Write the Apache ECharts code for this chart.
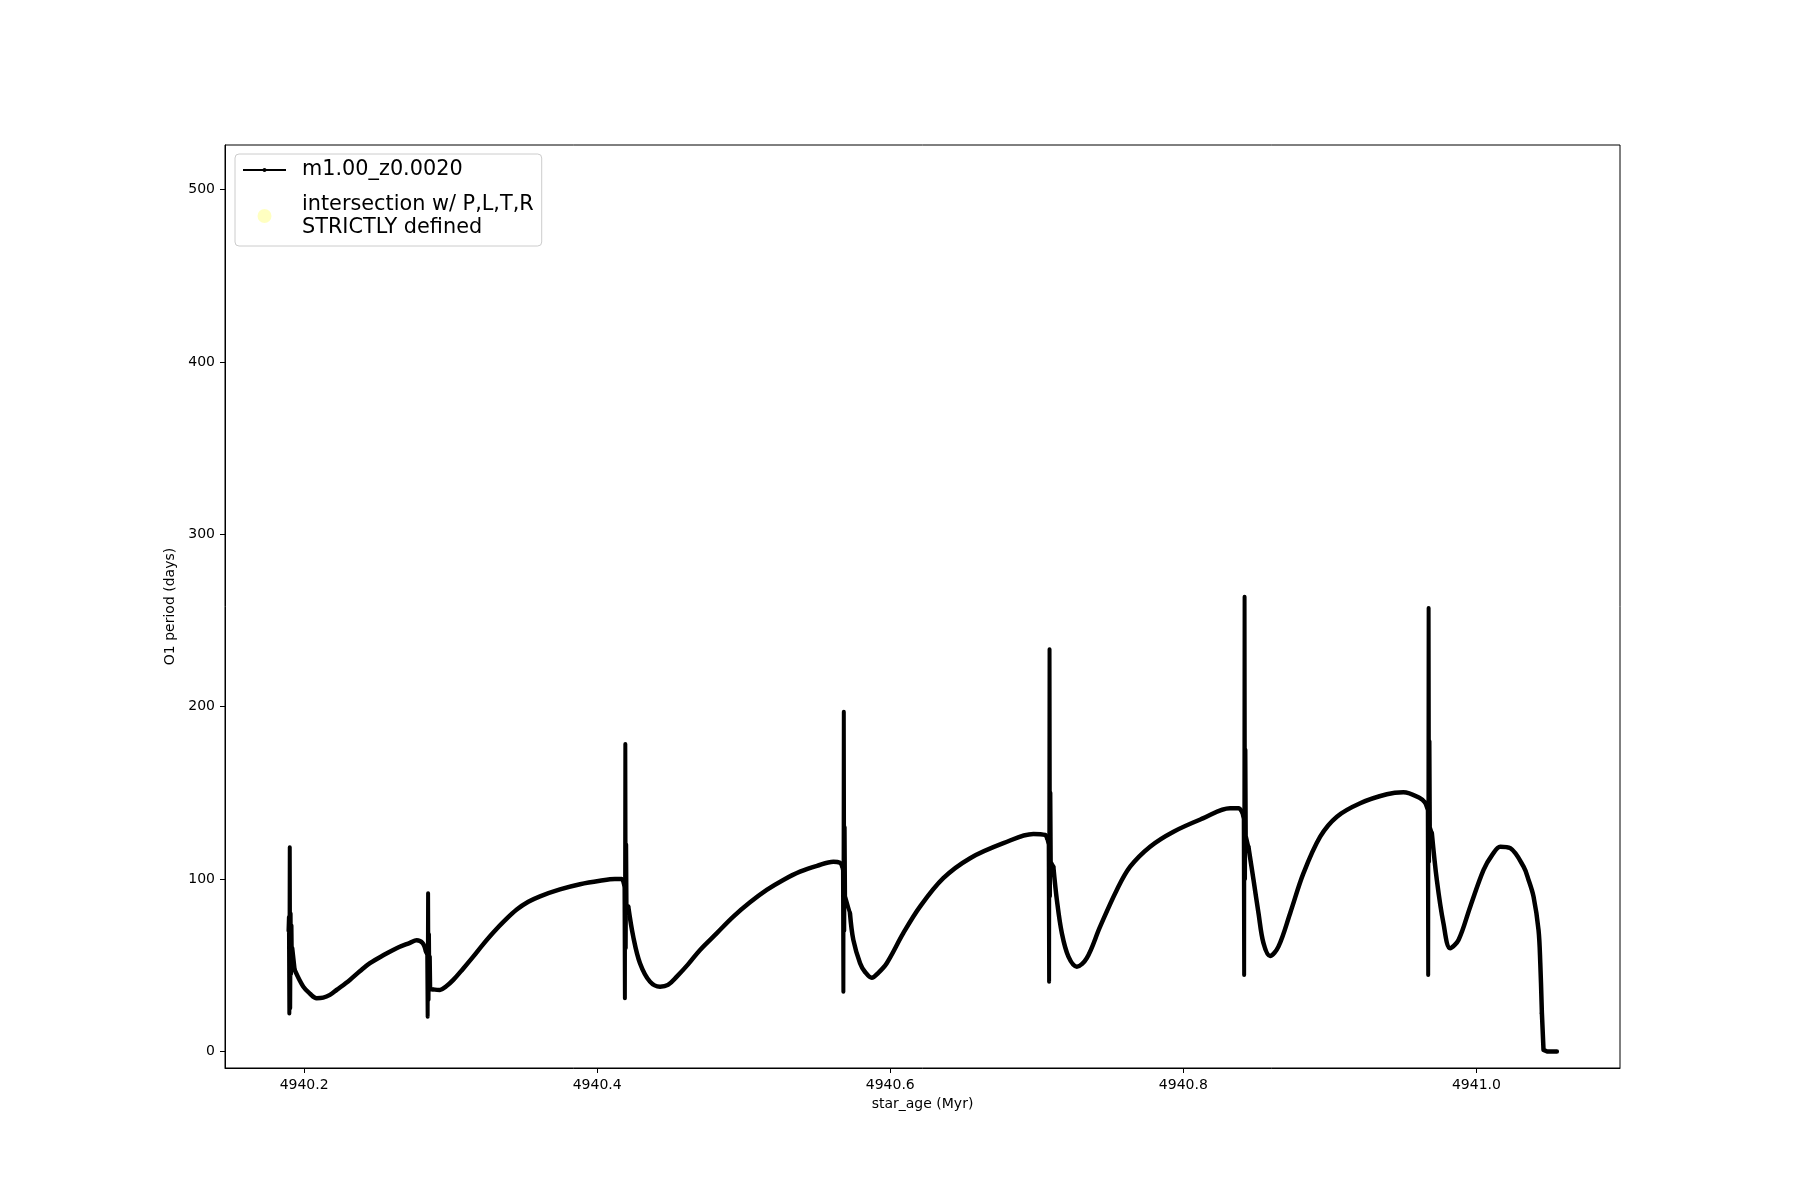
<!DOCTYPE html>
<html>
<head>
<meta charset="utf-8">
<script src="https://cdn.jsdelivr.net/npm/echarts@6/dist/echarts.min.js"></script>
<style>
html,body{margin:0;padding:0;background:#fff;}
#chart{width:1800px;height:1200px;}
</style>
</head>
<body>
<div id="chart"></div>
<script>
// ---- data ----
const seriesName = 'm1.00_z0.0020';
const intersectionName = 'intersection w/ P,L,T,R\nSTRICTLY defined';

const xTicks = [4940.2, 4940.4, 4940.6, 4940.8, 4941.0];
const yTicks = [0, 100, 200, 300, 400, 500];

// pulse spikes (dense vertical oscillations) and the arcs that follow them
const spikeAge1 = [4940.1893, 4940.1896, 4940.1899, 4940.1902, 4940.1905, 4940.1908, 4940.1911, 4940.1914, 4940.1917, 4940.1920];
const spikePeriod1 = [70, 78, 22, 118.5, 25, 80, 45, 73, 50, 60];
const arcAge1 = [4940.1937, 4940.1994, 4940.2040, 4940.2085, 4940.2130, 4940.2176, 4940.2222, 4940.2312, 4940.2380, 4940.2449, 4940.2540, 4940.2631, 4940.2722, 4940.2768, 4940.2809, 4940.2831];
const arcPeriod1 = [47, 37.6, 33.5, 30.9, 31.2, 32.8, 35.7, 41.5, 46.5, 51.2, 55.8, 59.9, 63, 64.5, 62.8, 58];

const spikeAge2 = [4940.2840, 4940.2843, 4940.2846, 4940.2849, 4940.2852, 4940.2855, 4940.2858, 4940.2861];
const spikePeriod2 = [56, 20.2, 91.8, 30, 68, 38, 55, 36];
const arcAge2 = [4940.2879, 4940.2927, 4940.2970, 4940.3018, 4940.3085, 4940.3154, 4940.3220, 4940.3291, 4940.3370, 4940.3451, 4940.3530, 4940.3610, 4940.3746, 4940.3883, 4940.4019, 4940.4121, 4940.4167, 4940.4183];
const arcPeriod2 = [36, 35.7, 37.8, 41.5, 48, 55.0, 62, 69, 76, 82.3, 86.8, 90, 94, 97, 99, 100, 100, 97];

const spikeAge3 = [4940.4186, 4940.4189, 4940.4192, 4940.4195, 4940.4198, 4940.4201];
const spikePeriod3 = [95, 30.9, 178.4, 60, 120, 80];
const arcAge3 = [4940.4212, 4940.4246, 4940.4292, 4940.4360, 4940.4429, 4940.4483, 4940.4543, 4940.4620, 4940.4702, 4940.4815, 4940.4929, 4940.5043, 4940.5157, 4940.5270, 4940.5384, 4940.5500, 4940.5612, 4940.5657, 4940.5671];
const arcPeriod3 = [84, 66.6, 51.2, 40.5, 37.6, 38.6, 43.4, 50.5, 58.9, 68.5, 78.2, 86.5, 93.7, 99.5, 104.3, 107.7, 110.1, 109.5, 107.6];

const spikeAge4 = [4940.5677, 4940.5680, 4940.5683, 4940.5686, 4940.5689, 4940.5692];
const spikePeriod4 = [105, 34.7, 197.1, 70, 130, 90];
const arcAge4 = [4940.5725, 4940.5748, 4940.5794, 4940.5828, 4940.5874, 4940.5917, 4940.5976, 4940.6089, 4940.6203, 4940.6362, 4940.6545, 4940.6772, 4940.6977, 4940.7057, 4940.7070];
const arcPeriod4 = [80.2, 64.7, 51.2, 46.1, 42.8, 45.5, 51.2, 68.6, 84.0, 100.5, 112.1, 120.8, 126.2, 125.6, 123.8];

const spikeAge5 = [4940.7081, 4940.7084, 4940.7087, 4940.7090, 4940.7093, 4940.7096];
const spikePeriod5 = [120, 40.5, 233.3, 90, 150, 110];
const arcAge5 = [4940.7113, 4940.7137, 4940.7171, 4940.7216, 4940.7273, 4940.7341, 4940.7432, 4940.7546, 4940.7637, 4940.7773, 4940.7933, 4940.8137, 4940.8319, 4940.8376, 4940.8401];
const arcPeriod5 = [107.2, 87.9, 68.6, 55.0, 49.2, 54.1, 72.4, 93.7, 107.2, 118.8, 127.5, 135.3, 141.1, 141.1, 138.9];

const spikeAge6 = [4940.8412, 4940.8415, 4940.8418, 4940.8421, 4940.8424, 4940.8427];
const spikePeriod6 = [135, 44.4, 263.8, 100, 175, 125];
const arcAge6 = [4940.8444, 4940.8479, 4940.8513, 4940.8547, 4940.8592, 4940.8649, 4940.8729, 4940.8820, 4940.8934, 4940.9048, 4940.9207, 4940.9389, 4940.9502, 4940.9616, 4940.9650];
const arcPeriod6 = [118.8, 99.5, 80.2, 62.8, 55.4, 60.8, 80.2, 103.4, 124.6, 136.2, 144.0, 149.2, 150.3, 146.9, 144.3];

const spikeAge7 = [4940.9668, 4940.9671, 4940.9674, 4940.9677, 4940.9680, 4940.9683];
const spikePeriod7 = [140, 44.4, 257.3, 110, 180, 130];
const arcAge7 = [4940.9696, 4940.9730, 4940.9775, 4940.9821, 4940.9878, 4940.9958, 4941.0049, 4941.0108, 4941.0163, 4941.0231, 4941.0322, 4941.0356, 4941.0390, 4941.0424, 4941.0436, 4941.0447];
const arcPeriod7 = [126.6, 99.5, 74.4, 59.9, 64.7, 84.0, 105.3, 114, 118.8, 117.9, 107.2, 99.5, 89.8, 70.5, 51.2, 22.2];

const tailAge = [4941.0458, 4941.0483, 4941.0549];
const tailPeriod = [0.9, 0, 0];

const intersectionPoints = [];

// ---- build ----
const spikeAges = [spikeAge1, spikeAge2, spikeAge3, spikeAge4, spikeAge5, spikeAge6, spikeAge7];
const spikePeriods = [spikePeriod1, spikePeriod2, spikePeriod3, spikePeriod4, spikePeriod5, spikePeriod6, spikePeriod7];
const arcAges = [arcAge1, arcAge2, arcAge3, arcAge4, arcAge5, arcAge6, arcAge7];
const arcPeriods = [arcPeriod1, arcPeriod2, arcPeriod3, arcPeriod4, arcPeriod5, arcPeriod6, arcPeriod7];
const zip = (a, p) => a.map((v, i) => [v, p[i]]);

const FONT = 'DejaVu Sans';
const lineIcon = 'path://M0,0L0.01,0M0,14L0.01,14M0,6L43,6L43,8L0,8ZM19.5,7A2,2,0,1,1,23.5,7A2,2,0,1,1,19.5,7Z';

const baseLine = {
  type: 'line', name: seriesName, showSymbol: false, symbol: 'circle', symbolSize: 3,
  itemStyle: {color: '#000'}, emphasis: {disabled: true}, z: 3, silent: true
};
const series = [];
for (let k = 0; k < 7; k++) {
  const pts = [];
  if (k > 0) {
    const pa = arcAges[k - 1], pp = arcPeriods[k - 1];
    pts.push([pa[pa.length - 1], pp[pp.length - 1]]);
  }
  zip(spikeAges[k], spikePeriods[k]).forEach(p => pts.push(p));
  pts.push([arcAges[k][0], arcPeriods[k][0]]);
  series.push(Object.assign({}, baseLine, {
    data: pts, smooth: false,
    lineStyle: {color: '#000', width: 4, join: 'round', cap: 'round'}
  }));
  series.push(Object.assign({}, baseLine, {
    data: zip(arcAges[k], arcPeriods[k]), smooth: 0.35,
    lineStyle: {color: '#000', width: 4.5, join: 'round', cap: 'round'}
  }));
}
const tailPts = [[arcAge7[arcAge7.length - 1], arcPeriod7[arcPeriod7.length - 1]]].concat(zip(tailAge, tailPeriod));
series.push(Object.assign({}, baseLine, {
  data: tailPts, smooth: false,
  lineStyle: {color: '#000', width: 4.5, join: 'round', cap: 'round'}
}));
series.push({
  type: 'scatter', name: intersectionName, data: intersectionPoints,
  symbolSize: 14, itemStyle: {color: 'rgba(255,255,0,0.3)'},
  emphasis: {disabled: true}, z: 4
});

const chart = echarts.init(document.getElementById('chart'), null, {renderer: 'canvas'});
chart.setOption({
  animation: false,
  backgroundColor: '#ffffff',
  grid: {left: 225, right: 180, top: 145, bottom: 132, show: true, borderColor: '#000', borderWidth: 1, backgroundColor: 'transparent'},
  legend: {
    orient: 'vertical', left: 235, top: 154,
    padding: [4.5, 8, 7, 8],
    itemGap: 11.5,
    itemWidth: 43, itemHeight: 14,
    borderColor: '#cccccc', borderWidth: 1, borderRadius: 4,
    backgroundColor: 'rgba(255,255,255,0.8)',
    itemStyle: {borderWidth: 0},
    textStyle: {fontFamily: FONT, fontSize: 20.8, color: '#000', lineHeight: 23, padding: [0, 0, 0, 11]},
    selectedMode: false,
    data: [{name: seriesName, icon: lineIcon}, {name: intersectionName, icon: 'circle'}]
  },
  xAxis: {
    type: 'value', min: 4940.146, max: 4941.098, splitNumber: 5,
    axisLine: {show: true, onZero: false, lineStyle: {color: '#000', width: 1}},
    axisTick: {show: true, length: 5, lineStyle: {color: '#000', width: 1}, customValues: xTicks},
    axisLabel: {show: true, color: '#000', fontFamily: FONT, fontSize: 14, margin: 10, customValues: xTicks,
      formatter: v => Number(v).toFixed(1)},
    splitLine: {show: false},
    name: 'star_age (Myr)', nameLocation: 'middle', nameGap: 28,
    nameTextStyle: {fontFamily: FONT, fontSize: 14, color: '#000'}
  },
  yAxis: {
    type: 'value', min: -9.6, max: 525.8, splitNumber: 5,
    axisLine: {show: true, onZero: false, lineStyle: {color: '#000', width: 1}},
    axisTick: {show: true, length: 5, lineStyle: {color: '#000', width: 1}, customValues: yTicks},
    axisLabel: {show: true, color: '#000', fontFamily: FONT, fontSize: 14, margin: 10, customValues: yTicks,
      formatter: v => String(Math.round(v))},
    splitLine: {show: false},
    name: 'O1 period (days)', nameLocation: 'middle', nameGap: 38,
    nameTextStyle: {fontFamily: FONT, fontSize: 14, color: '#000'}
  },
  series: series
});
</script>
</body>
</html>
